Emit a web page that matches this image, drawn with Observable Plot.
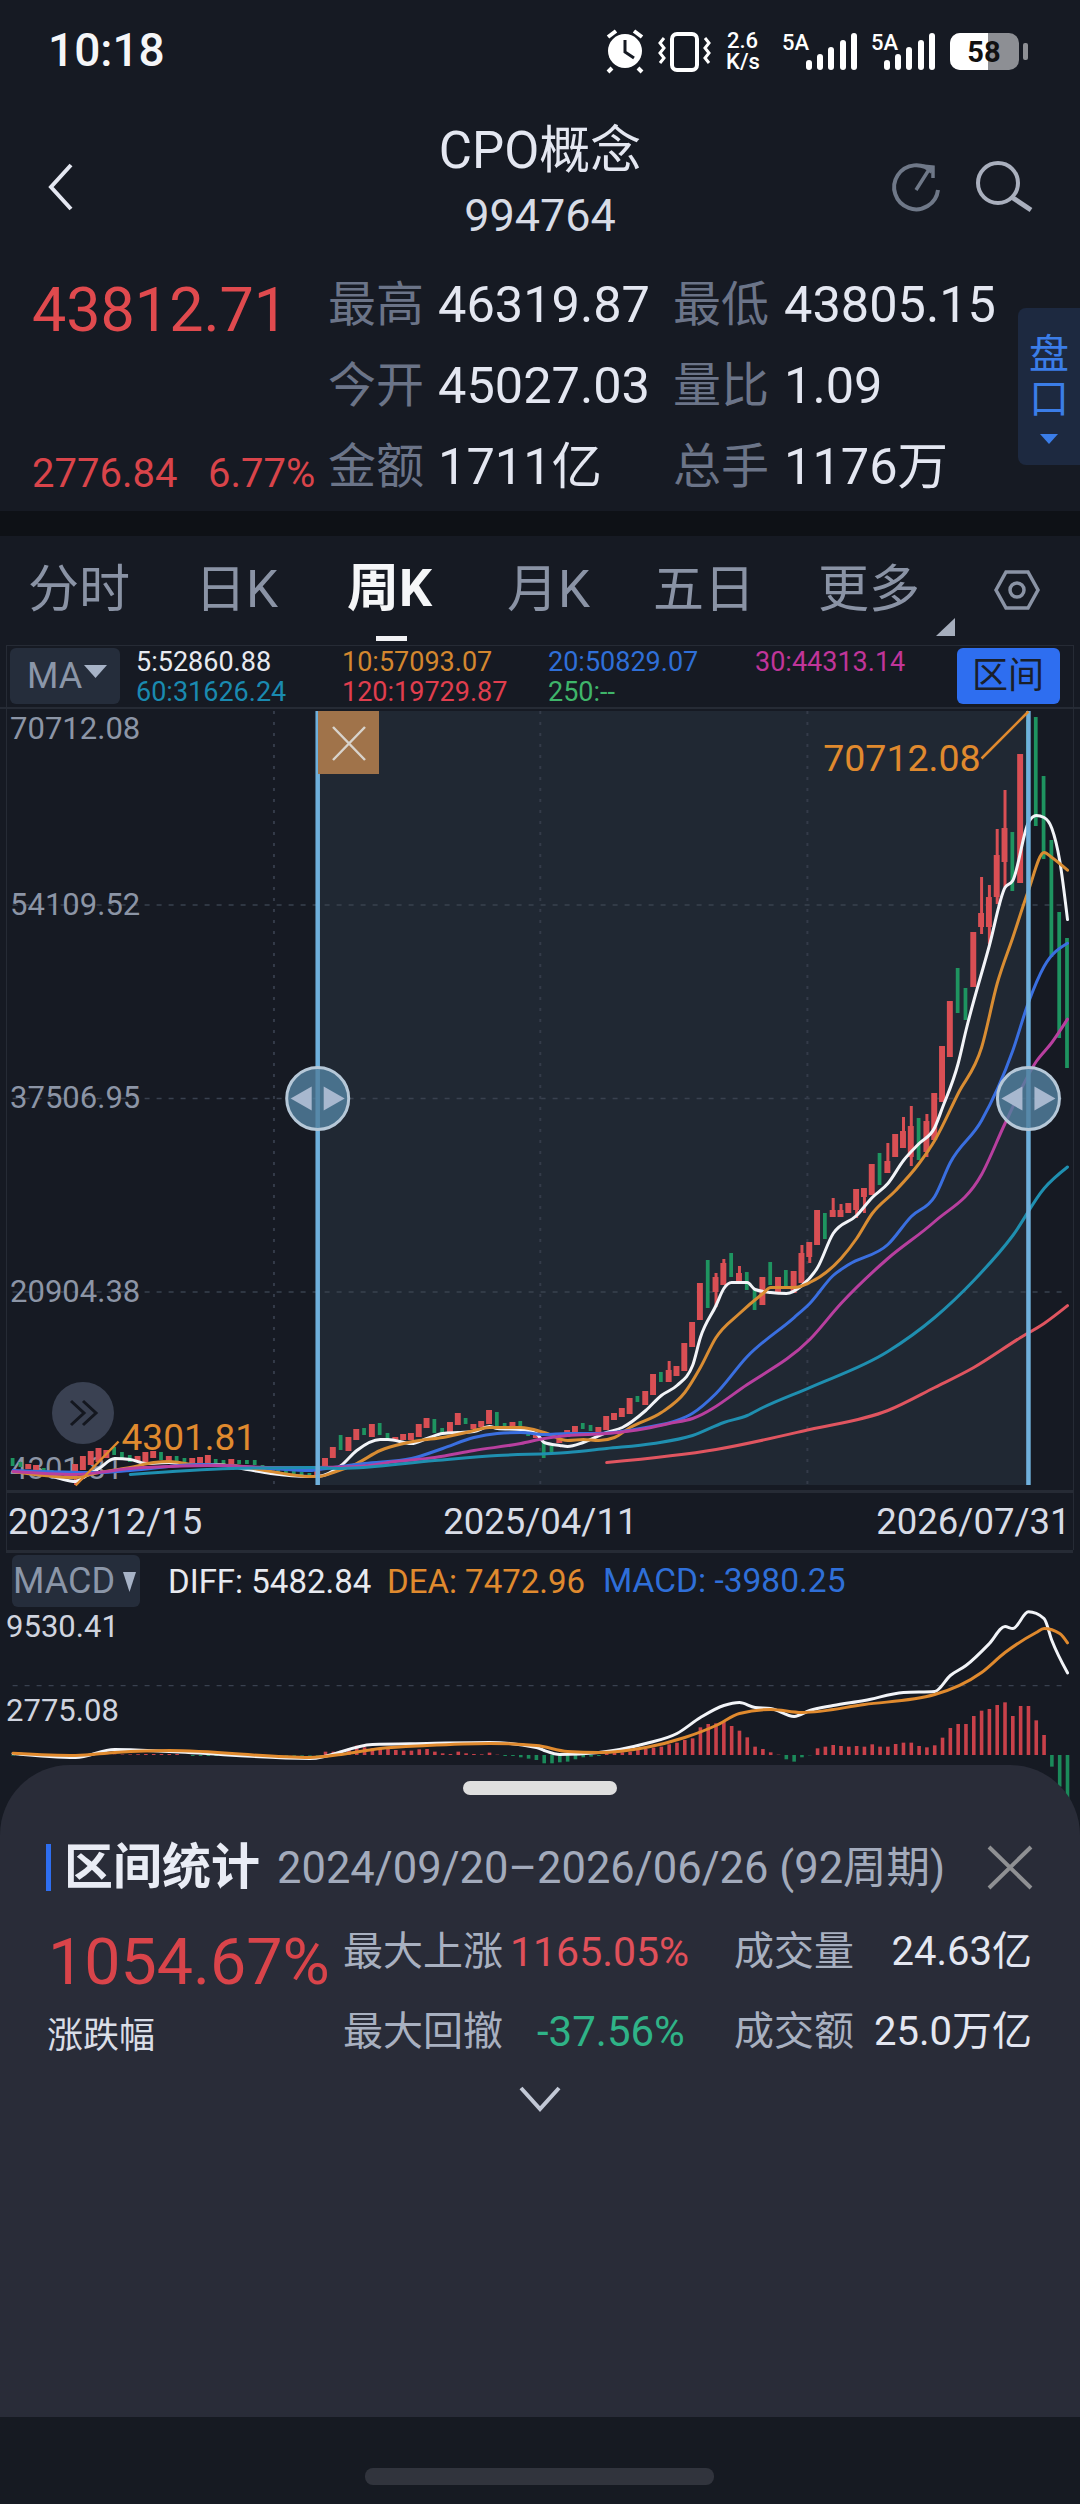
<!DOCTYPE html>
<html lang="zh"><head><meta charset="utf-8">
<script src="https://cdn.jsdelivr.net/npm/d3@7"></script>
<script src="https://cdn.jsdelivr.net/npm/@observablehq/plot@0.6"></script>
<style>
html,body{margin:0;padding:0;width:1080px;height:2504px;overflow:hidden;background:#161a23;font-family:Roboto,"Noto Sans CJK SC",sans-serif;}
#stage{position:relative;width:1080px;height:2504px;overflow:hidden;}
.t{position:absolute;white-space:nowrap;line-height:1;transform:translateY(-50%);}
.b{position:absolute;}
svg.i{position:absolute;left:0;top:0;overflow:visible;}
#main,#macd{position:absolute;left:0;}
#main svg,#macd svg{display:block;}
</style></head><body><div id="stage">
<div class="b" style="left:0;top:511px;width:1080px;height:25px;background:#0e1116"></div>
<div class="b" style="left:1018px;top:308px;width:62px;height:157px;background:#1d2940;border-radius:8px 0 0 8px"></div>
<div class="b" style="left:6px;top:645px;width:1067px;height:1px;background:#262b35"></div>
<div class="b" style="left:0;top:707px;width:1080px;height:2px;background:#262b35"></div>
<div class="b" style="left:6px;top:1490px;width:1067px;height:3px;background:#262b35"></div>
<div class="b" style="left:6px;top:1550px;width:1067px;height:3px;background:#262b35"></div>
<div class="b" style="left:6px;top:645px;width:1px;height:905px;background:#262b35"></div>
<div class="b" style="left:1073px;top:645px;width:1px;height:905px;background:#262b35"></div>
<div class="b" style="left:10px;top:648px;width:110px;height:56px;background:#252d3b;border-radius:6px"></div>
<div class="b" style="left:957px;top:648px;width:103px;height:56px;background:#2e6ef0;border-radius:6px"></div>
<div class="b" style="left:376px;top:636px;width:31px;height:5px;background:#f2f2f5"></div>
<div class="b" style="left:12px;top:1555px;width:128px;height:52px;background:#252d3b;border-radius:6px"></div>
<div id="main" style="top:706px"></div>
<div id="macd" style="top:1600px"></div>
<div class="b" style="left:318px;top:711px;width:61px;height:63px;background:#a0734a"></div>
<div class="b" style="left:0;top:1765px;width:1080px;height:652px;background:#292c38;border-radius:70px 70px 0 0"></div>
<div class="b" style="left:0;top:2417px;width:1080px;height:87px;background:#161a22"></div>
<div class="b" style="left:365px;top:2468px;width:349px;height:17px;background:#31343d;border-radius:8px"></div>
<div class="b" style="left:463px;top:1781px;width:154px;height:14px;background:#dfdfdf;border-radius:7px"></div>
<div class="b" style="left:46px;top:1844px;width:5px;height:47px;background:#2e6ef0"></div>
<svg class="i" width="1080" height="2504" fill="none">
 <path d="M71 165 L51 187 L71 209" stroke="#e4e7f1" stroke-width="4"/>
 <path d="M932 172 A22 22 0 1 0 938 190" stroke="#6f7888" stroke-width="4"/><path d="M916 190 L930 168 M922 166 L933 167 L933 178" stroke="#6f7888" stroke-width="3.5"/>
 <circle cx="998" cy="183" r="20" stroke="#a9afbd" stroke-width="4"/><path d="M1013 198 L1031 210" stroke="#a9afbd" stroke-width="5"/>
 <path d="M996 590 L1006 572 L1028 572 L1038 590 L1028 608 L1006 608 Z" stroke="#8a93a5" stroke-width="3.5"/><circle cx="1017" cy="590" r="7" stroke="#8a93a5" stroke-width="3.5"/>
 <path d="M955 618 L955 636 L936 636 Z" fill="#a6aebd"/>
 <circle cx="625" cy="51" r="17" fill="#fff"/><path d="M625 40 V52 L634 58" stroke="#161a23" stroke-width="3"/><path d="M608 37 L616 31 M642 37 L634 31 M612 68 L608 72 M638 68 L642 72" stroke="#fff" stroke-width="4"/>
 <rect x="672" y="34" width="25" height="36" rx="5" stroke="#fff" stroke-width="4"/><path d="M664 38 L660 43 L664 48 L660 53 L664 58 L660 63 M705 38 L709 43 L705 48 L709 53 L705 58 L709 63" stroke="#fff" stroke-width="3"/>
 <g fill="#fff"><rect x="806" y="60" width="6" height="10" rx="3"/><rect x="817" y="54" width="6" height="16" rx="3"/><rect x="828" y="47" width="6" height="23" rx="3"/><rect x="840" y="40" width="6" height="30" rx="3"/><rect x="851" y="33" width="6" height="37" rx="3"/>
 <rect x="884" y="60" width="6" height="10" rx="3"/><rect x="895" y="54" width="6" height="16" rx="3"/><rect x="906" y="47" width="6" height="23" rx="3"/><rect x="918" y="40" width="6" height="30" rx="3"/><rect x="929" y="33" width="6" height="37" rx="3"/></g>
 <rect x="950" y="33" width="69" height="37" rx="10" fill="#8d8f94"/><path d="M960 33 H988 V70 H960 A10 10 0 0 1 950 60 V43 A10 10 0 0 1 960 33 Z" fill="#fff"/><rect x="1023" y="43" width="5" height="17" rx="2" fill="#8d8f94"/>
 <path d="M333 727 L365 760 M365 727 L333 760" stroke="#d8d3cc" stroke-width="2.5"/>
 <path d="M989 1847 L1031 1888 M1031 1847 L989 1888" stroke="#8f9093" stroke-width="4"/>
 <path d="M521 2088 L540 2109 L559 2088" stroke="#c2c8d6" stroke-width="4"/>
 <path d="M1040 434 H1058 L1049 444 Z" fill="#3b7de8"/><path d="M84 665 H107 L95.5 678 Z" fill="#a7b3c7"/><path d="M123 1572 H136 L129.5 1592 Z" fill="#a7b3c7"/>
 <circle cx="83" cy="1413" r="31" fill="#3a4152"/><path d="M71 1401 L84 1413 L71 1425 M83 1401 L96 1413 L83 1425" stroke="#14171f" stroke-width="3"/>
</svg>
</div>
<script>
// ---------- Quote header text ----------
const quote = {last:"43812.71", change:"2776.84", pct:"6.77%"};
const quoteRows = [["最高","46319.87","最低","43805.15"],["今开","45027.03","量比","1.09"],["金额","1711亿","总手","1176万"]];
const tabs = [["分时",28],["日K",195],["周K",347],["月K",507],["五日",653],["更多",818]];

// ---------- Axis values ----------
const priceTop = 70712.08, priceBottom = 4301.81;
const priceGrid = [54109.52, 37506.95, 20904.38];
const dateLabels = ["2023/12/15","2025/04/11","2026/07/31"];
const lastWeek = 135, midWeek = 67.5;
const weekGrid = [33.4, 67.5, 101.7];
const rangeStart = 39, rangeEnd = 130;
const lowWeek = 8, highWeek = 130;

// ---------- Weekly candles ----------
const tops = [6619,6275,6104,6018,5761,5589,5417,5417,6104,6790,7219,7477,7305,7562,7133,6876,6790,7133,7219,7133,
6790,6790,6619,6619,6704,6876,6533,6447,6533,6447,6447,6447,6018,5846,5675,5589,5503,5417,5332,5761,
6619,7562,8592,8420,9107,9193,9536,9622,8764,8420,8678,8764,9536,10051,9965,9193,9707,10480,10051,9536,
9793,10737,10565,9622,9707,9793,9193,8849,7991,7648,8335,9021,9364,9622,9450,9278,10222,10480,10909,11767,
11938,12367,13826,13997,14169,14512,16486,18287,21634,23607,22148,23350,24208,22492,22577,21033,22148,23435,22148,22749,
22663,24208,25151,27897,27640,27897,27897,28498,29699,29785,31844,32788,32101,34418,34675,35104,35791,35533,37936,41968,
45829,48661,46945,51749,53380,54752,58356,60673,60329,67022,69939,70196,65134,59643,53465,51235];
const bottoms = [5932,5846,5675,5589,5417,5246,5074,4903,5160,5589,6018,6275,6619,6876,6447,6275,6275,6275,6619,6447,
6275,6275,6190,6104,6104,6190,6190,6104,6104,6104,6104,6018,5589,5417,5332,5246,5160,5074,4988,4988,
5846,6619,7305,7219,8163,8592,8420,8592,8163,8163,8163,8163,8420,9193,8764,8764,8764,9450,9536,9107,
9278,9536,9364,9278,9278,9278,8506,8335,6619,7133,7906,8420,8764,9107,8935,8764,9021,9879,10136,10394,
11423,11166,12024,13139,13139,13654,14083,16142,18459,19489,20861,21462,22148,21805,21033,19317,19746,21462,20776,21290,
20776,21634,23864,24894,25409,27296,27296,27640,27897,29012,29184,30042,31072,32444,33217,32444,32187,32873,33903,37163,
41024,44800,44199,47030,52178,52178,54752,57755,55267,55954,60501,60844,58013,49604,42655,40081];
const upWeeks = new Set([2,3,7,8,9,10,11,12,16,17,18,20,23,24,25,28,39,40,41,43,44,46,49,50,51,52,53,56,57,59,60,61,64,67,70,71,72,75,76,77,78,79,81,82,84,85,86,87,88,90,91,93,96,98,100,101,102,103,105,106,107,108,109,110,112,113,114,115,117,118,119,120,123,124,125,126,127,129]);
const upperWicks = [[84,14941],[90,22492],[91,23693],[93,23092],[101,24894],[105,28927],[106,28412],[112,33646],[114,35876],[115,36820],[117,36134],[124,56468],[125,55782],[126,60587],[127,63933],[130,priceTop]];
const lowerWicks = [[8,priceBottom],[90,19574],[102,23350],[108,27211],[109,27640],[115,31672],[117,32444],[124,51578],[125,50720],[126,54152],[127,55610]];

// ---------- Moving averages [week, value] ----------
const ma5 = [[0,5503],[4,5332],[6,4903],[8,4645],[9,4988],[11,5761],[13,6619],[15,6533],[17,6190],[20,6275],[22,6104],[26,6104],[30,5675],[33,5332],[38,5074],[39,5074],[42,6018],[44,7305],[47,8249],[48,8249],[51,7906],[53,8335],[55,8764],[57,8849],[59,8935],[61,9364],[62,9193],[65,9107],[67,8764],[68,7991],[70,7734],[71,7648],[73,7991],[76,8849],[78,9278],[81,10737],[83,12024],[85,12882],[87,14598],[88,17000],[90,19746],[91,21205],[92,21719],[94,21719],[95,21119],[97,20861],[99,20776],[101,21462],[103,23006],[105,25924],[108,27468],[110,29012],[112,30214],[114,32187],[116,33646],[118,35018],[119,36734],[121,40510],[122,43341],[125,50634],[127,55610],[128,56211],[130,61187],[131,61788],[132,61616],[133,60673],[134,57927],[135,52860.88]];
const ma10 = [[0,5503],[8,4988],[11,5417],[15,5846],[18,6275],[20,6361],[23,6104],[28,6018],[33,5503],[38,5074],[39,5074],[41,5417],[44,6190],[47,7305],[50,7906],[52,8163],[55,8420],[58,8849],[61,9278],[65,9278],[68,8849],[71,8163],[73,8249],[75,8163],[77,8420],[79,9278],[83,10565],[86,12281],[88,14426],[90,17000],[93,19060],[96,20776],[97,21290],[100,21290],[102,21719],[106,23779],[108,25495],[110,27640],[113,29613],[116,31930],[118,33903],[121,37936],[124,41882],[126,47374],[128,51320],[130,55353],[132,58613],[133,58184],[135,57093.07]];
const ma20 = [[0,5589],[11,5417],[15,5589],[24,6104],[29,5932],[33,5761],[38,5589],[39,5675],[45,6190],[51,6619],[55,7477],[59,8420],[62,8764],[65,8849],[68,8678],[71,8764],[75,8764],[81,9278],[85,9879],[87,10500],[90,12196],[94,15370],[100,18716],[102,19918],[105,22320],[107,23264],[112,24980],[115,27382],[118,29098],[120,32015],[124,35619],[128,41625],[130,45743],[132,48832],[135,50829.07]];
const ma30 = [[0,5503],[8,5246],[11,5417],[15,5761],[20,5932],[26,6018],[33,5846],[38,5846],[44,5932],[49,6361],[54,6704],[59,7305],[65,7906],[68,8335],[71,8592],[76,8764],[81,9193],[84,9622],[87,10051],[94,12968],[102,16829],[106,19918],[112,23779],[118,26953],[124,30986],[127,35362],[131,40681],[133,42311],[135,44313.14]];
const ma60 = [[15,5246],[28,5761],[38,5846],[42,5761],[54,6447],[62,6876],[71,7133],[76,7477],[82,7906],[87,8592],[91,9707],[94,10308],[96,10994],[102,12710],[112,15799],[118,18716],[123,21891],[128,25752],[132,29785],[135,31626.24]];
const ma120 = [[76,6275],[90,7391],[102,9107],[112,10737],[118,12710],[123,14426],[129,17000],[132,18202],[135,19729.87]];

// ---------- MACD panel values ----------
const macdTop = 9530.41, macdMark = 2775.08, macdGrid = 4640, macdFloor = -4200;
const diff = [[0,130],[8,-133],[13,398],[20,265],[38,-199],[46,729],[53,796],[61,862],[67,530],[68,331],[70,66],[75,199],[81,796],[85,1459],[88,2519],[91,3315],[93,3514],[95,3182],[97,3116],[100,2586],[102,2984],[105,3315],[109,3647],[114,4177],[118,4243],[120,5304],[122,5967],[125,7426],[127,8553],[128,8420],[130,9530],[132,9083],[133,7625],[135,5482.84]];
const dea = [[0,150],[8,0],[13,199],[20,331],[38,-133],[42,66],[47,464],[53,663],[61,796],[67,663],[71,265],[75,199],[81,530],[86,1193],[90,1989],[93,2785],[97,3050],[101,2851],[109,3381],[118,4044],[124,5503],[127,6829],[131,8155],[132,8420],[134,8089],[135,7472.96]];
const macdBars = [-40,-40,-30,-30,-20,-20,-20,-20,-10,10,20,20,20,20,30,40,50,66,66,66,
66,66,0,-66,-66,-66,-66,-66,-66,-66,-66,-66,-66,-66,-44,-44,-44,-44,-44,-44,
220,220,287,420,619,508,442,398,398,332,287,287,376,398,221,110,66,221,110,66,
44,155,22,-66,-66,-155,-243,-332,-552,-552,-486,-442,-287,-155,-110,-66,110,155,177,221,
332,398,486,552,707,818,995,1105,1834,2055,2099,2210,1923,1613,1171,552,398,177,22,-287,
-442,-155,-22,442,552,663,597,552,597,552,707,552,552,729,818,818,597,508,641,1149,
1790,2055,2055,2586,2939,3050,3315,3492,2586,3249,3249,2298,1326,-773,-2100,-3980.25];

// ---------- Colours ----------
const red="#d94f54", green="#1e9460";
const maStyles=[[ma5,"#f2f4f8"],[ma10,"#d98d33"],[ma20,"#3a6fe0"],[ma30,"#b83f9f"],[ma60,"#1f8fb0"],[ma120,"#e05560"]];

const candles = tops.map((t,i)=>({i,top:t,bot:bottoms[i],up:upWeeks.has(i)}));
const tx = {fontFamily:"Roboto,'Noto Sans CJK SC',sans-serif"};
const lineOf=([data,stroke],w=3)=>Plot.line(data,{x:d=>d[0],y:d=>d[1],stroke,strokeWidth:w,curve:"monotone-x"});
const handles=[rangeStart,rangeEnd].map(i=>({i,v:priceGrid[1]}));

const main = Plot.plot({
  width:1080,height:842,marginTop:5,marginBottom:63,marginLeft:12.6,marginRight:13,
  style:{background:"transparent",overflow:"visible"},
  x:{type:"linear",domain:[0,lastWeek],axis:null},
  y:{domain:[priceBottom,priceTop],axis:null},
  marks:[
    Plot.rectX([0],{x1:rangeStart,x2:rangeEnd,fill:"#202833"}),
    Plot.ruleY(priceGrid,{stroke:"#39414f",strokeDasharray:"5 7",strokeWidth:1.3}),
    Plot.ruleX(weekGrid,{stroke:"#343b49",strokeDasharray:"3 8",strokeWidth:2}),
    Plot.text([priceTop],{...tx,y:d=>d,text:d=>d.toFixed(2),frameAnchor:"left",textAnchor:"start",dx:-3,dy:18,fontSize:31,fill:"#8c95a6"}),
    Plot.text(priceGrid,{...tx,y:d=>d,text:d=>d.toFixed(2),frameAnchor:"left",textAnchor:"start",dx:-3,fontSize:31,fill:"#8c95a6"}),
    Plot.text([priceBottom],{...tx,y:d=>d,text:d=>d.toFixed(2),frameAnchor:"left",textAnchor:"start",dx:-3,dy:-16,fontSize:31,fill:"#8c95a6"}),
    Plot.ruleX(upperWicks,{x:d=>d[0],y1:d=>tops[d[0]],y2:d=>d[1],stroke:d=>upWeeks.has(d[0])?red:green,strokeWidth:3}),
    Plot.ruleX(lowerWicks,{x:d=>d[0],y1:d=>bottoms[d[0]],y2:d=>d[1],stroke:d=>upWeeks.has(d[0])?red:green,strokeWidth:3}),
    Plot.rect(candles.filter(c=>c.up),{x1:c=>c.i-0.38,x2:c=>c.i+0.38,y1:"bot",y2:"top",fill:red}),
    Plot.rect(candles.filter(c=>!c.up),{x1:c=>c.i-0.24,x2:c=>c.i+0.24,y1:"bot",y2:"top",fill:green}),
    ...maStyles.map(s=>lineOf(s,3)),
    Plot.ruleX([rangeStart,rangeEnd],{stroke:"#6fb0dc",strokeWidth:4.5}),
    Plot.dot(handles,{x:"i",y:"v",r:31,fill:"#52809f",fillOpacity:0.82,stroke:"#b6c8d8",strokeWidth:3}),
    Plot.dot(handles,{x:"i",y:"v",symbol:"triangle",rotate:-90,r:9,dx:-13,fill:"#a8b8cf"}),
    Plot.dot(handles,{x:"i",y:"v",symbol:"triangle",rotate:90,r:9,dx:13,fill:"#a8b8cf"}),
    Plot.link([0],{x1:highWeek,y1:priceTop,x2:124,y2:66679,stroke:"#e08a2e",strokeWidth:2.5}),
    Plot.text([priceTop],{...tx,x:124,y:66679,text:d=>d.toFixed(2),textAnchor:"end",dx:-1,fontSize:37.5,fill:"#e08a2e"}),
    Plot.link([0],{x1:lowWeek,y1:priceBottom,x2:13.5,y2:8077,stroke:"#e08a2e",strokeWidth:2.5}),
    Plot.text([priceBottom],{...tx,x:13.5,y:8077,text:d=>d.toFixed(2),textAnchor:"start",dx:3,dy:-3,fontSize:37,fill:"#e08a2e"}),
    Plot.text([dateLabels[0]],{...tx,x:0,text:d=>d,frameAnchor:"bottom",textAnchor:"start",dx:-5,dy:48,fontSize:36.5,fill:"#d8dce6"}),
    Plot.text([dateLabels[1]],{...tx,x:midWeek,text:d=>d,frameAnchor:"bottom",textAnchor:"middle",dy:48,fontSize:36.5,fill:"#d8dce6"}),
    Plot.text([dateLabels[2]],{...tx,x:lastWeek,text:d=>d,frameAnchor:"bottom",textAnchor:"end",dx:3,dy:48,fontSize:36.5,fill:"#d8dce6"})
  ]
});
document.getElementById("main").append(main);

const macd = Plot.plot({
  width:1080,height:220,marginTop:11.3,marginBottom:1.7,marginLeft:12.6,marginRight:13,
  style:{background:"transparent",overflow:"visible"},
  x:{type:"linear",domain:[0,lastWeek],axis:null},
  y:{domain:[macdFloor,macdTop],axis:null},
  marks:[
    Plot.ruleY([macdGrid],{stroke:"#39414f",strokeDasharray:"5 7",strokeWidth:1.3}),
    Plot.text([macdTop],{...tx,y:d=>d,text:d=>d.toFixed(2),frameAnchor:"left",textAnchor:"start",dy:15,dx:-7,fontSize:31,fill:"#d0d4df"}),
    Plot.text([macdMark],{...tx,y:d=>d,text:d=>d.toFixed(2),frameAnchor:"left",textAnchor:"start",dy:-3,dx:-7,fontSize:31,fill:"#d0d4df"}),
    Plot.ruleX(macdBars.map((v,i)=>({i,v})),{x:"i",y1:0,y2:"v",stroke:d=>d.v>=0?"#c9414a":"#1b8a5a",strokeWidth:3.6}),
    lineOf([diff,"#f2f4f8"],3),
    lineOf([dea,"#e08a2e"],3)
  ]
});
document.getElementById("macd").append(macd);

// ---------- Plain text of the app chrome ----------
const stage=document.getElementById("stage");
function put(text,x,y,size,color,o={}){
  const e=document.createElement("div");e.className="t";e.textContent=text;
  e.style.cssText+=`top:${y}px;font-size:${size}px;color:${color};`+(o.right!=null?`right:${1080-o.right}px;`:`left:${x}px;`)+(o.bold?"font-weight:700;":"")+(o.anchor?`transform:translate(-50%,-50%);`:"")+(o.extra||"");
  stage.append(e);
}
put("10:18",48,50,46,"#f5f6f8",{extra:"font-weight:500;"});
put("2.6",727,41,22,"#fff",{extra:"font-weight:500;"});put("K/s",726,62,22,"#fff",{extra:"font-weight:500;"});
put("5A",782,43,22,"#fff",{extra:"font-weight:500;"});put("5A",871,43,22,"#fff",{extra:"font-weight:500;"});
put("58",984,52,29,"#111",{anchor:1,bold:1});
put("CPO概念",540,150,51,"#e4e7f1",{anchor:1});
put("994764",540,215,45,"#d8dce6",{anchor:1});
put(quote.last,32,310,61,"#e04a4e");
put(quote.change,32,474,40,"#d9444a");put(quote.pct,208,474,40,"#d9444a");
quoteRows.forEach((r,k)=>{const y=305+k*81;
  put(r[0],328,y,48,"#6b7488");put(r[1],438,y,50.5,"#e4e7f1");
  put(r[2],673,y,48,"#6b7488");put(r[3],784,y,50.5,"#e4e7f1");});
put("盘",1049,355,40,"#3b7de8",{anchor:1});put("口",1049,400,40,"#3b7de8",{anchor:1});
tabs.forEach(([s,x])=>put(s,x,589,s==="周K"?52:51,s==="周K"?"#f5f6f8":"#8a93a5",{bold:s==="周K"}));
put("MA",27,676,36,"#8b96a8");put("区间",1008,676,36,"#1a1f2a",{anchor:1});
[["5:52860.88",136,662,"#e8eaf0"],["10:57093.07",342,662,"#d4872f"],["20:50829.07",548,662,"#2f6fd8"],["30:44313.14",755,662,"#c0359a"],
 ["60:31626.24",136,692,"#1a8ab0"],["120:19729.87",342,692,"#e03e4e"],["250:--",548,692,"#3fb56a"]].forEach(([s,x,y,c])=>put(s,x,y,27,c));
put("MACD",13,1581,36,"#8b96a8");
put("DIFF: 5482.84",168,1581,33,"#e8eaf0");put("DEA: 7472.96",387,1581,33,"#e08a2e");put("MACD: -3980.25",603,1581,33.5,"#2f6fd8");
put("区间统计",64,1867,49,"#e9ecf5",{bold:1});
put("2024/09/20–2026/06/26 (92周期)",277,1869,43.5,"#a3abbc");
put("1054.67%",48,1962,64.5,"#d9444a");put("涨跌幅",47,2036,36,"#d9dde6");
put("最大上涨",343,1952,40,"#a8b0c0");put("1165.05%",510,1952,41,"#e0505a");
put("成交量",734,1952,40,"#a8b0c0");put("24.63亿",0,1952,40,"#e4e7f1",{right:1032});
put("最大回撤",343,2032,40,"#a8b0c0");put("-37.56%",537,2032,42,"#2fb387");
put("成交额",734,2032,40,"#a8b0c0");put("25.0万亿",0,2032,40,"#e4e7f1",{right:1032});
</script></body></html>
